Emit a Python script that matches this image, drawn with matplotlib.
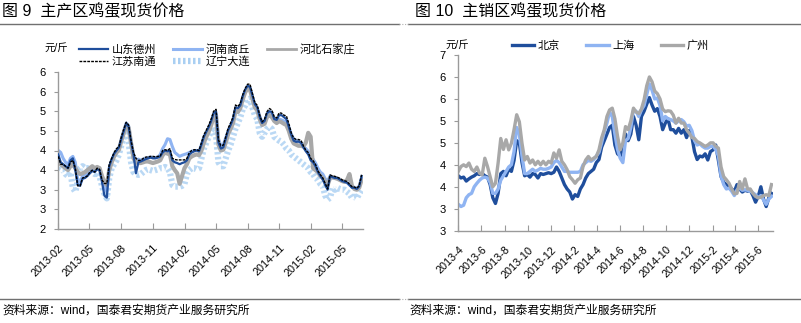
import matplotlib
matplotlib.use("Agg")
import matplotlib.pyplot as plt
import matplotlib.dates as mdates
from matplotlib.lines import Line2D
import pandas as pd

plt.rcParams['font.family'] = ['Liberation Sans', 'Noto Sans CJK SC']

# ---------- 图9 主产区 (weekly, from 2013-02-01) ----------
dates_main = pd.date_range('2013-02-01', periods=126, freq='7D')

jiangsu_nantong = [
    4.35, 4.15, 4.15, 4.10, 4.05, 4.20, 4.25, 4.05, 3.60, 3.60,
    3.80, 3.82, 3.85, 3.95, 4.00, 3.95, 4.05, 4.02, 3.75, 3.66,
    3.66, 4.15, 4.30, 4.45, 4.55, 4.60, 4.85, 5.05, 5.22, 5.15,
    4.75, 4.45, 4.30, 4.25, 4.25, 4.30, 4.33, 4.34, 4.35, 4.35,
    4.34, 4.35, 4.36, 4.50, 4.52, 4.50, 4.55, 4.30, 4.27, 4.26,
    4.26, 4.26, 4.26, 4.30, 4.45, 4.50, 4.52, 4.52, 4.50, 4.70,
    4.90, 5.02, 5.15, 5.30, 5.50, 5.55, 4.77, 4.62, 4.64, 4.85,
    5.07, 5.20, 5.35, 5.66, 5.62, 5.70, 5.92, 6.08, 6.19, 6.19,
    5.95, 5.72, 5.65, 5.40, 5.23, 5.30, 5.49, 5.57, 5.53, 5.36,
    5.33, 5.46, 5.45, 5.40, 5.38, 5.19, 4.95, 4.82, 4.78, 4.78,
    4.76, 4.62, 4.51, 4.45, 4.30, 4.24, 4.15, 3.98, 3.88, 3.80,
    3.66, 3.52, 3.88, 3.85, 3.84, 3.82, 3.79, 3.75, 3.73, 3.71,
    3.64, 3.58, 3.57, 3.54, 3.60, 3.88]

shandong_dezhou = [
    4.40, 4.20, 4.15, 4.10, 4.05, 4.25, 4.30, 4.00, 3.62, 3.60,
    3.78, 3.80, 3.85, 3.92, 3.98, 3.95, 4.02, 4.00, 3.70, 3.35,
    3.30, 4.10, 4.28, 4.42, 4.50, 4.58, 4.80, 5.00, 5.20, 5.10,
    4.70, 4.40, 3.92, 4.20, 4.22, 4.25, 4.28, 4.30, 4.32, 4.30,
    4.30, 4.32, 4.35, 4.45, 4.50, 4.48, 4.50, 4.25, 4.20, 4.18,
    4.15, 4.18, 4.20, 4.25, 4.40, 4.45, 4.48, 4.50, 4.48, 4.65,
    4.85, 4.98, 5.10, 5.25, 5.45, 5.50, 4.70, 4.55, 4.58, 4.80,
    5.02, 5.15, 5.30, 5.60, 5.58, 5.65, 5.88, 6.05, 6.15, 6.12,
    5.90, 5.68, 5.60, 5.35, 5.20, 5.25, 5.45, 5.50, 5.48, 5.30,
    5.28, 5.40, 5.40, 5.35, 5.30, 5.10, 4.90, 4.75, 4.72, 4.73,
    4.70, 4.58, 4.48, 4.40, 4.25, 4.20, 4.10, 3.95, 3.85, 3.76,
    3.62, 3.50, 3.85, 3.82, 3.80, 3.80, 3.76, 3.72, 3.70, 3.68,
    3.62, 3.55, 3.55, 3.52, 3.58, 3.85]

henan_shangqiu = [
    4.50, 4.45, 4.30, 4.20, 4.15, 4.30, 4.35, 4.20, 3.75, 3.70,
    3.85, 3.88, 3.90, 4.00, 4.02, 4.00, 4.05, 4.05, 3.80, 3.55,
    3.45, 4.05, 4.25, 4.40, 4.50, 4.55, 4.80, 5.00, 5.20, 5.12,
    4.72, 4.40, 4.25, 4.28, 4.25, 4.28, 4.30, 4.32, 4.33, 4.32,
    4.32, 4.33, 4.40, 4.55, 4.65, 4.80, 4.78, 4.60, 4.45, 4.40,
    4.35, 4.38, 4.40, 4.42, 4.45, 4.48, 4.50, 4.50, 4.48, 4.65,
    4.85, 4.95, 5.05, 5.20, 5.40, 5.45, 4.80, 4.62, 4.65, 4.82,
    5.00, 5.12, 5.28, 5.55, 5.55, 5.62, 5.85, 6.00, 6.12, 6.10,
    5.88, 5.65, 5.58, 5.38, 5.22, 5.25, 5.40, 5.45, 5.40, 5.30,
    5.25, 5.30, 5.28, 5.25, 5.22, 5.10, 4.92, 4.80, 4.75, 4.72,
    4.70, 4.60, 4.55, 4.48, 4.35, 4.28, 4.18, 4.05, 3.95, 3.90,
    3.78, 3.72, 3.85, 3.80, 3.80, 3.78, 3.75, 3.72, 3.70, 3.68,
    3.62, 3.58, 3.55, 3.55, 3.58, 3.80]

hebei_shijiazhuang = [
    4.20, 4.15, 4.10, 4.05, 4.00, 4.10, 4.15, 4.05, 3.95, 3.90,
    3.92, 3.95, 4.00, 4.05, 4.10, 4.05, 4.08, 4.05, 3.85, 3.70,
    3.62, 4.00, 4.20, 4.35, 4.45, 4.52, 4.75, 4.95, 5.15, 5.08,
    4.68, 4.30, 4.20, 4.18, 4.18, 4.20, 4.22, 4.22, 4.20, 4.18,
    4.20, 4.22, 4.25, 4.38, 4.45, 4.42, 4.40, 4.10, 4.00, 3.92,
    3.65, 3.85, 4.05, 4.15, 4.30, 4.35, 4.38, 4.40, 4.38, 4.50,
    4.70, 4.85, 4.98, 5.15, 5.35, 5.40, 4.65, 4.50, 4.52, 4.70,
    4.92, 5.05, 5.20, 5.50, 5.48, 5.58, 5.80, 5.98, 6.08, 6.05,
    5.82, 5.60, 5.52, 5.30, 5.15, 5.18, 5.35, 5.40, 5.35, 5.25,
    5.20, 5.25, 5.22, 5.18, 5.15, 5.00, 4.80, 4.68, 4.65, 4.62,
    4.62, 4.60, 4.70, 4.95, 4.85, 4.05, 4.00, 3.95, 3.85, 3.80,
    3.70, 3.62, 3.80, 3.82, 3.80, 3.78, 3.75, 3.72, 3.70, 3.75,
    3.90, 3.60, 3.52, 3.50, 3.55, 3.75]

liaoning_dalian = [
    4.05, 4.00, 4.00, 3.90, 3.85, 3.95, 3.55, 3.45, 3.70, 4.05,
    4.10, 4.05, 4.05, 4.00, 3.95, 3.90, 3.95, 3.85, 3.60, 3.40,
    3.28, 3.80, 4.05, 4.15, 4.25, 4.40, 4.65, 4.85, 4.95, 4.70,
    4.20, 3.95, 3.90, 3.88, 3.90, 3.95, 4.00, 4.02, 4.00, 3.98,
    4.00, 4.02, 4.05, 4.05, 4.08, 4.05, 3.95, 3.62, 3.58, 3.58,
    3.58, 3.60, 3.65, 3.90, 4.00, 4.05, 4.05, 4.02, 4.05, 4.30,
    4.55, 4.70, 4.85, 5.00, 5.10, 4.90, 4.20, 4.10, 4.10, 4.30,
    4.50, 4.65, 4.85, 5.05, 5.20, 5.35, 5.55, 5.65, 5.80, 5.82,
    5.60, 5.40, 5.30, 4.95, 4.85, 4.95, 5.05, 5.10, 5.05, 4.85,
    4.80, 4.75, 4.72, 4.65, 4.55, 4.50, 4.40, 4.35, 4.30, 4.25,
    4.20, 4.15, 4.10, 4.05, 3.95, 3.90, 3.80, 3.75, 3.65, 3.60,
    3.35, 3.25, 3.30, 3.55, 3.50, 3.55, 3.52, 3.50, 3.50, 3.45,
    3.40, 3.30, 3.32, 3.28, 3.40, 3.50]

# ---------- 图10 主销区 (weekly, from 2013-04-01) ----------
dates_sale = pd.date_range('2013-04-01', periods=119, freq='7D')

beijing = [
    4.25, 4.20, 4.22, 4.13, 4.18, 4.22, 4.25, 4.30, 4.28, 4.30,
    4.25, 4.22, 4.05, 3.75, 3.62, 3.85, 4.30, 4.35, 4.25, 4.40,
    4.35, 4.60, 5.05, 5.00, 4.55, 4.25, 4.28, 4.22, 4.30, 4.28,
    4.20, 4.30, 4.28, 4.30, 4.32, 4.30, 4.33, 4.45, 4.35, 4.20,
    4.05, 3.95, 3.88, 3.72, 3.82, 3.78, 3.95, 4.05, 4.20, 4.30,
    4.35, 4.40, 4.55, 4.62, 4.90, 5.05, 5.20, 5.35, 5.40, 4.95,
    4.75, 4.70, 4.90, 5.20, 5.05, 5.20, 5.60, 5.40, 5.07, 5.60,
    5.72, 5.88, 6.03, 5.86, 5.72, 5.78, 5.60, 5.30, 5.45, 5.55,
    5.30, 5.30, 5.22, 5.33, 5.22, 5.30, 5.12, 5.28, 5.14, 4.80,
    4.62, 4.70, 4.68, 4.75, 4.61, 4.80, 4.84, 4.95, 4.60, 4.23,
    4.10, 4.05, 4.02, 3.95, 3.89, 4.05, 3.95, 3.88, 3.92, 3.90,
    3.92, 3.80, 3.65, 3.78, 4.00, 3.72, 3.55, 3.75, 3.85]

shanghai = [
    3.60, 3.55, 3.58, 3.75, 3.82, 3.85, 4.00, 4.08, 4.15, 4.20,
    4.22, 4.20, 4.10, 3.85, 3.85, 3.95, 4.15, 4.25, 4.35, 4.45,
    4.50, 4.80, 5.35, 5.20, 4.70, 4.30, 4.30, 4.35, 4.40, 4.35,
    4.38, 4.42, 4.40, 4.40, 4.42, 4.45, 4.55, 4.60, 4.55, 4.45,
    4.35, 4.35, 4.33, 4.33, 4.33, 4.33, 4.35, 4.50, 4.55, 4.60,
    4.58, 4.62, 4.70, 4.78, 5.00, 5.25, 5.45, 5.70, 5.60, 5.20,
    4.85, 4.65, 4.55, 5.05, 5.10, 5.35, 5.75, 5.72, 5.60, 5.75,
    5.85, 6.10, 6.34, 6.20, 6.00, 6.02, 5.85, 5.50, 5.60, 5.55,
    5.53, 5.50, 5.45, 5.50, 5.53, 5.48, 5.38, 5.40, 5.28, 5.05,
    4.95, 4.98, 4.92, 4.88, 4.88, 4.92, 4.92, 4.85, 4.70, 4.25,
    4.05, 3.95, 3.97, 3.90, 3.80, 3.93, 3.97, 3.92, 3.93, 3.92,
    3.90, 3.86, 3.82, 3.75, 3.80, 3.70, 3.60, 3.72, 3.78]

guangzhou = [
    4.35, 4.46, 4.50, 4.46, 4.54, 4.40, 4.35, 4.45, 4.31, 4.27,
    4.65, 4.46, 4.23, 4.00, 4.08, 4.54, 5.10, 4.85, 5.07, 4.84,
    4.99, 5.30, 5.64, 5.48, 4.99, 4.61, 4.69, 4.54, 4.61, 4.50,
    4.58, 4.50, 4.58, 4.50, 4.58, 4.54, 4.77, 4.65, 4.84, 4.58,
    4.50, 4.39, 4.23, 4.16, 4.08, 4.16, 4.20, 4.46, 4.61, 4.69,
    4.61, 4.65, 4.69, 4.84, 5.11, 5.30, 5.60, 5.75, 5.79, 5.55,
    5.15, 4.84, 5.00, 5.37, 5.30, 5.50, 5.79, 5.70, 5.67, 5.77,
    5.98, 6.30, 6.50, 6.39, 6.18, 6.12, 6.00, 5.77, 5.71, 5.73,
    5.72, 5.63, 5.45, 5.56, 5.45, 5.45, 5.30, 5.22, 5.12, 5.10,
    5.03, 5.00, 4.96, 4.92, 4.95, 5.00, 5.00, 4.92, 4.88, 4.45,
    4.23, 4.16, 4.08, 3.95, 3.84, 3.85, 4.12, 3.95, 4.18, 3.95,
    3.95, 3.85, 3.78, 3.75, 3.76, 3.80, 3.82, 3.80, 4.05]

# tick labels as printed in the source chart
yticks_main = [2.5, 3, 3.5, 4, 4.5, 5, 5.5, 6, 6.5]
ylabels_main = ['2', '3', '3', '4', '4', '5', '5', '6', '6']
yticks_sale = [3, 3.5, 4, 4.5, 5, 5.5, 6, 6.5, 7]
ylabels_sale = ['3', '3', '4', '4', '5', '5', '6', '6', '7']

DARK = '#1f4e9c'
LIGHT = '#8fb4f2'
GRAY = '#a8a8a8'
DOTTED = '#a9cff2'
AXC = '#9a9a9a'

W, H = 801, 323
fig = plt.figure(figsize=(W / 100, H / 100), dpi=100)


def style_axes(ax, yticks, ylabels):
    for s in ['top', 'right']:
        ax.spines[s].set_visible(False)
    for s in ['left', 'bottom']:
        ax.spines[s].set_color(AXC)
        ax.spines[s].set_linewidth(1.0)
    ax.set_yticks(yticks)
    ax.set_yticklabels(ylabels)
    ax.set_ylim(yticks[0], yticks[-1])
    ax.tick_params(axis='y', direction='out', length=3, color=AXC,
                   labelsize=8, pad=6)
    ax.tick_params(axis='x', direction='in', length=4, color=AXC,
                   labelsize=7.8, pad=10)
    for lab in ax.get_xticklabels():
        lab.set_rotation(45)
        lab.set_ha('right')
        lab.set_rotation_mode('anchor')


# ---------- left panel ----------
ax1 = fig.add_axes([58.3 / W, 1 - 229 / H, (363 - 58.3) / W, (229 - 72) / H])
ax1.plot(dates_main, shandong_dezhou, color=DARK, lw=1.6, zorder=3)
ax1.plot(dates_main, henan_shangqiu, color=LIGHT, lw=2.2, zorder=2)
ax1.plot(dates_main, hebei_shijiazhuang, color=GRAY, lw=3.0, zorder=2.5)
ax1.plot(dates_main, jiangsu_nantong, color='black', lw=1.0,
         ls=(0, (2, 0.8)), zorder=4)
ax1.plot(dates_main, liaoning_dalian, color=DOTTED, lw=4.5, alpha=0.8,
         ls=(0, (0.4, 0.4)), zorder=1.5)

ax1.set_xlim(pd.Timestamp('2013-02-01'), pd.Timestamp('2015-06-30'))
ax1.xaxis.set_major_locator(mdates.MonthLocator(bymonth=[2, 5, 8, 11]))
ax1.xaxis.set_major_formatter(mdates.DateFormatter('%Y-%m'))
style_axes(ax1, yticks_main, ylabels_main)

h_main = [
    Line2D([], [], color=DARK, lw=1.6),
    Line2D([], [], color='black', lw=1.0, ls=(0, (2, 0.8))),
    Line2D([], [], color=LIGHT, lw=2.2),
    Line2D([], [], color=DOTTED, lw=4.5, ls=(0, (0.4, 0.4))),
    Line2D([], [], color=GRAY, lw=2.0),
]
l_main = ['山东德州', '江苏南通', '河南商丘', '辽宁大连', '河北石家庄']
ax1.legend(h_main, l_main, ncol=3, loc='upper left', frameon=False,
           bbox_to_anchor=(79 / W, 1 - 44 / H), bbox_transform=fig.transFigure,
           fontsize=8, handlelength=2.6, handletextpad=0.35,
           columnspacing=1.5, labelspacing=0.1, borderaxespad=0,
           borderpad=0)
fig.text(44 / W, 1 - 48 / H, '元/斤', fontsize=7.5, va='center', ha='left')

# ---------- right panel ----------
ax2 = fig.add_axes([458.3 / W, 1 - 230.7 / H, (773 - 458.3) / W, (230.7 - 55) / H])
ax2.plot(dates_sale, beijing, color=DARK, lw=2.4)
ax2.plot(dates_sale, shanghai, color=LIGHT, lw=2.4)
ax2.plot(dates_sale, guangzhou, color=GRAY, lw=2.4)

ax2.set_xlim(pd.Timestamp('2013-04-01'), pd.Timestamp('2015-07-10'))
ax2.xaxis.set_major_locator(mdates.MonthLocator(bymonth=[2, 4, 6, 8, 10, 12]))
ax2.xaxis.set_major_formatter(
    plt.FuncFormatter(lambda v, p: f"{mdates.num2date(v).year}-{mdates.num2date(v).month}"))
style_axes(ax2, yticks_sale, ylabels_sale)

h_sale = [Line2D([], [], color=c, lw=2.4) for c in (DARK, LIGHT, GRAY)]
ax2.legend(h_sale, ['北京', '上海', '广州'], ncol=3, loc='center left',
           frameon=False, bbox_to_anchor=(512 / W, 1 - 46 / H),
           bbox_transform=fig.transFigure, fontsize=8, handlelength=2.0,
           handletextpad=0.3, columnspacing=2.4, borderaxespad=0, borderpad=0)
fig.text(445 / W, 1 - 45 / H, '元/斤', fontsize=7.5, va='center', ha='left')

# ---------- titles, rules, source notes ----------
fig.text(2 / W, 1 - 11 / H, '图 9  主产区鸡蛋现货价格', fontsize=11.5,
         fontweight='medium', va='center', ha='left')
fig.text(415 / W, 1 - 11 / H, '图 10  主销区鸡蛋现货价格', fontsize=11.5,
         fontweight='medium', va='center', ha='left')
for x0, x1 in [(0, 399), (408, 801)]:
    for yy in (23.5, 298.5):
        fig.add_artist(Line2D([x0 / W, x1 / W], [1 - yy / H, 1 - yy / H],
                              color='#707070', lw=1.0))
for yy in (23.5, 298.5):
    fig.add_artist(Line2D([399 / W, 408 / W], [1 - yy / H, 1 - yy / H],
                          color='#b0b0b0', lw=0.8, ls=(0, (1, 1.5))))
src = '资料来源：wind，国泰君安期货产业服务研究所'
fig.text(2 / W, 1 - 311 / H, src, fontsize=8.5, va='center', ha='left')
fig.text(409 / W, 1 - 311 / H, src, fontsize=8.5, va='center', ha='left')

fig.savefig('out.png', dpi=100)
